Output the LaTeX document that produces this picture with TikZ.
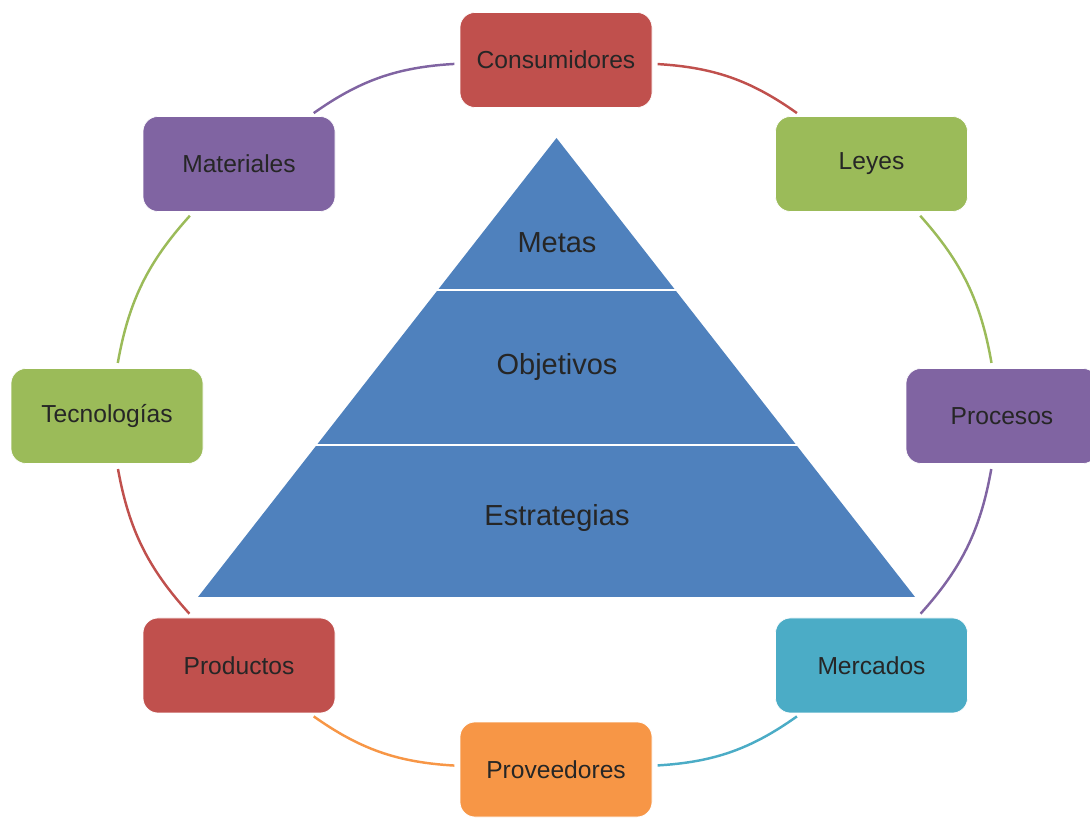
\documentclass[tikz,border=0pt]{standalone}
\usepackage{fontspec}
\setmainfont{Liberation Sans}
\usepackage{tikz}
\usetikzlibrary{positioning}
\definecolor{rojo}{HTML}{C0504D}
\definecolor{verde}{HTML}{9BBB59}
\definecolor{morado}{HTML}{8064A2}
\definecolor{turquesa}{HTML}{4BACC6}
\definecolor{naranja}{HTML}{F79646}
\definecolor{azul}{HTML}{4F81BD}

\begin{document}
\begin{tikzpicture}[caja/.style={rectangle, rounded corners=0.3cm, minimum width=3.84cm, minimum height=1.9cm, text=black!85, font=\fontsize{14}{16}\selectfont, draw=white, line width=0.4pt},
	arco/.style={line width=1.4pt, shorten <=3pt, shorten >=3pt, bend left=16},
	nivel/.style={text=black!85, font=\fontsize{16.5}{19}\selectfont}]
			\useasboundingbox (0,0) rectangle (21.8,16.34);
			
			% piramide
			\fill [azul] (11.13,13.58) -- (18.30,4.40) -- (3.96,4.40) -- cycle;
			\draw [white, line width=1.6pt] (8.70,10.54) -- (13.56,10.54);
			\draw [white, line width=1.6pt] (6.28,7.44) -- (15.98,7.44);
			\node [nivel] (metas) at (11.14,11.48) {Metas};
			\node [nivel] (obj) at (11.14,9.00) {Objetivos};
			\node [nivel] (est) at (11.14,5.98) {Estrategias};
			
			\node [caja, fill=rojo] (cons) at (11.12,15.14) {Consumidores};
			\node [caja, fill=verde] (leyes) at (17.43,13.06) {Leyes};
			\node [caja, fill=morado] (proc) at (20.04,8.02) {Procesos};
			\node [caja, fill=turquesa] (merc) at (17.43,3.03) {Mercados};
			\node [caja, fill=naranja] (prov) at (11.12,0.95) {Proveedores};
			\node [caja, fill=rojo] (prod) at (4.78,3.03) {Productos};
			\node [caja, fill=verde] (tec) at (2.14,8.02) {Tecnologías};
			\node [caja, fill=morado] (mat) at (4.78,13.06) {Materiales};
			
			% anillo
			\draw [arco, rojo] (cons) to (leyes);
			\draw [arco, verde] (leyes) to (proc);
			\draw [arco, morado] (proc) to (merc);
			\draw [arco, turquesa] (merc) to (prov);
			\draw [arco, naranja] (prov) to (prod);
			\draw [arco, rojo] (prod) to (tec);
			\draw [arco, verde] (tec) to (mat);
			\draw [arco, morado] (mat) to (cons);
			
		\end{tikzpicture}
\end{document}
